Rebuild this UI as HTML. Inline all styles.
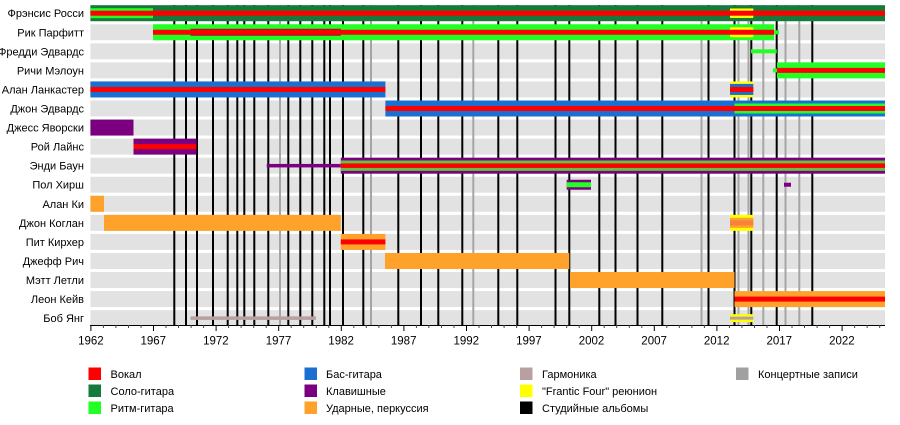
<!DOCTYPE html>
<html><head><meta charset="utf-8"><style>
html,body{margin:0;padding:0;background:#fff;}
svg{display:block;}
text{font-family:"Liberation Sans",Arial,sans-serif;fill:#000;}
</style></head><body>
<svg width="900" height="425" viewBox="0 0 900 425" xmlns="http://www.w3.org/2000/svg">
<rect width="900" height="425" fill="#fff"/>
<!-- row backgrounds -->
<g fill="#e2e2e2">
<rect x="90.4" y="5.2" width="794.6" height="16"/>
<rect x="90.4" y="24.26" width="794.6" height="16"/>
<rect x="90.4" y="43.32" width="794.6" height="16"/>
<rect x="90.4" y="62.38" width="794.6" height="16"/>
<rect x="90.4" y="81.44" width="794.6" height="16"/>
<rect x="90.4" y="100.5" width="794.6" height="16"/>
<rect x="90.4" y="119.56" width="794.6" height="16"/>
<rect x="90.4" y="138.62" width="794.6" height="16"/>
<rect x="90.4" y="157.68" width="794.6" height="16"/>
<rect x="90.4" y="176.74" width="794.6" height="16"/>
<rect x="90.4" y="195.8" width="794.6" height="16"/>
<rect x="90.4" y="214.86" width="794.6" height="16"/>
<rect x="90.4" y="233.92" width="794.6" height="16"/>
<rect x="90.4" y="252.98" width="794.6" height="16"/>
<rect x="90.4" y="272.04" width="794.6" height="16"/>
<rect x="90.4" y="291.1" width="794.6" height="16"/>
<rect x="90.4" y="310.16" width="794.6" height="15"/>
</g>
<!-- live albums (gray lines) -->
<g fill="#a5a5a5">
<rect x="279" y="5" width="2" height="320"/>
<rect x="370" y="5" width="2" height="320"/>
<rect x="472.3" y="5" width="2" height="320"/>
<rect x="700.5" y="5" width="2" height="320"/>
<rect x="737.5" y="5" width="2" height="320"/>
<rect x="747.5" y="5" width="2" height="320"/>
<rect x="762.3" y="5" width="2" height="320"/>
<rect x="784.5" y="5" width="2" height="320"/>
<rect x="798.3" y="5" width="2" height="320"/>
</g>
<!-- studio albums (black lines) -->
<g fill="#000">
<rect x="173.3" y="5" width="2" height="320"/>
<rect x="185" y="5" width="2" height="320"/>
<rect x="196" y="5" width="2" height="320"/>
<rect x="212" y="5" width="2" height="320"/>
<rect x="226.7" y="5" width="2" height="320"/>
<rect x="236.3" y="5" width="2" height="320"/>
<rect x="243.3" y="5" width="2" height="320"/>
<rect x="253.3" y="5" width="2" height="320"/>
<rect x="267.3" y="5" width="2" height="320"/>
<rect x="287.3" y="5" width="2" height="320"/>
<rect x="299.3" y="5" width="2" height="320"/>
<rect x="311.3" y="5" width="2" height="320"/>
<rect x="323.3" y="5" width="2" height="320"/>
<rect x="329" y="5" width="2" height="320"/>
<rect x="342" y="5" width="2" height="320"/>
<rect x="362.3" y="5" width="2" height="320"/>
<rect x="397.3" y="5" width="2" height="320"/>
<rect x="420" y="5" width="2" height="320"/>
<rect x="437.3" y="5" width="2" height="320"/>
<rect x="461.3" y="5" width="2" height="320"/>
<rect x="497.3" y="5" width="2" height="320"/>
<rect x="516.3" y="5" width="2" height="320"/>
<rect x="554.5" y="5" width="2" height="320"/>
<rect x="568.3" y="5" width="2" height="320"/>
<rect x="598.3" y="5" width="2" height="320"/>
<rect x="614.5" y="5" width="2" height="320"/>
<rect x="636.5" y="5" width="2" height="320"/>
<rect x="661.3" y="5" width="2" height="320"/>
<rect x="707.5" y="5" width="2" height="320"/>
<rect x="733.5" y="5" width="2" height="320"/>
<rect x="750.3" y="5" width="2" height="320"/>
<rect x="775.7" y="5" width="2" height="320"/>
<rect x="811.3" y="5" width="2" height="320"/>
</g>
<!-- Row 0: Rossi -->
<rect x="90.4" y="5.2" width="794.6" height="16" fill="#157a3c"/>
<rect x="90.4" y="8.2" width="62.6" height="10" fill="#22ff22"/>
<rect x="730" y="8.45" width="23.3" height="9.5" fill="#ffff00"/>
<rect x="90.4" y="10.7" width="794.6" height="5" fill="#ff0000"/>
<!-- Row 1: Parfitt -->
<rect x="153" y="24.26" width="621" height="16" fill="#22ff22"/>
<rect x="730" y="27.26" width="23.3" height="10" fill="#ffff00"/>
<rect x="190.5" y="28.76" width="150.3" height="7" fill="#a0103a"/>
<rect x="153" y="29.76" width="621" height="5" fill="#ff0000"/>
<rect x="774" y="30.26" width="5" height="4" fill="#22ff22"/>
<!-- Row 2: Freddie Edwards -->
<rect x="751" y="49.32" width="25.7" height="4" fill="#22ff22"/>
<!-- Row 3: Malone -->
<rect x="777" y="62.38" width="108" height="16" fill="#22ff22"/>
<rect x="777" y="67.88" width="108" height="5" fill="#ff0000"/>
<rect x="773" y="68.38" width="4" height="4" fill="#22ff22"/>
<!-- Row 4: Lancaster -->
<rect x="90.4" y="81.44" width="295" height="16" fill="#1a6fd0"/>
<rect x="90.4" y="86.94" width="295" height="5" fill="#ff0000"/>
<rect x="730" y="81.44" width="23.3" height="16" fill="#ffff00"/>
<rect x="730" y="83.94" width="23.3" height="11" fill="#1a6fd0"/>
<rect x="730" y="86.94" width="23.3" height="5" fill="#ff0000"/>
<!-- Row 5: John Edwards -->
<rect x="385.4" y="100.5" width="499.6" height="16" fill="#1a6fd0"/>
<rect x="734.5" y="103.5" width="150.5" height="10" fill="#22ff22"/>
<rect x="385.4" y="106" width="499.6" height="5" fill="#ff0000"/>
<!-- Row 6: Jaworski -->
<rect x="90.4" y="119.56" width="43.1" height="16" fill="#7a0080"/>
<!-- Row 7: Lynes -->
<rect x="133.5" y="138.62" width="63" height="16" fill="#7a0080"/>
<rect x="133.5" y="144.12" width="63" height="5" fill="#ff0000"/>
<!-- Row 8: Bown -->
<rect x="266.7" y="163.93" width="74.1" height="3.5" fill="#7a0080"/>
<rect x="340.8" y="157.68" width="544.2" height="16" fill="#7a0080"/>
<rect x="340.8" y="160.48" width="544.2" height="10.4" fill="#66c044"/>
<rect x="340.8" y="163.43" width="544.2" height="4.5" fill="#ff0000"/>
<!-- Row 9: Hirsch -->
<rect x="566.7" y="179.74" width="24.3" height="10" fill="#7a0080"/>
<rect x="566.7" y="182.24" width="24.3" height="5" fill="#22ff22"/>
<rect x="784" y="182.74" width="7" height="4" fill="#7a0080"/>
<!-- Row 10: Key -->
<rect x="90.4" y="195.8" width="13.6" height="16" fill="#ffa22c"/>
<!-- Row 11: Coghlan -->
<rect x="104" y="214.86" width="236.8" height="16" fill="#ffa22c"/>
<rect x="730" y="214.86" width="23.3" height="16" fill="#ffff00"/>
<rect x="730" y="217.86" width="23.3" height="10" fill="#ffa22c"/>
<rect x="730" y="220.36" width="23.3" height="5" fill="#f5843a"/>
<!-- Row 12: Kircher -->
<rect x="340.8" y="233.92" width="44.6" height="16" fill="#ffa22c"/>
<rect x="340.8" y="239.42" width="44.6" height="5" fill="#ff0000"/>
<!-- Row 13: Rich -->
<rect x="385" y="252.98" width="184.3" height="16" fill="#ffa22c"/>
<!-- Row 14: Letley -->
<rect x="570" y="272.04" width="164.5" height="16" fill="#ffa22c"/>
<!-- Row 15: Cave -->
<rect x="734.5" y="291.1" width="150.5" height="16" fill="#ffa22c"/>
<rect x="734.5" y="296.6" width="150.5" height="5" fill="#ff0000"/>
<!-- Row 16: Young -->
<rect x="190.5" y="316.4" width="125.5" height="3.5" fill="#b8a0a0"/>
<rect x="730" y="314.16" width="23.3" height="8" fill="#ffff00"/>
<rect x="730" y="316.66" width="23.3" height="3" fill="#b8a0a0"/>
<!-- names -->
<g font-size="11" text-anchor="end">
<text x="84" y="17.2">Фрэнсис Росси</text>
<text x="84" y="36.3">Рик Парфитт</text>
<text x="84" y="55.3">Фредди Эдвардс</text>
<text x="84" y="74.4">Ричи Мэлоун</text>
<text x="84" y="93.4">Алан Ланкастер</text>
<text x="84" y="112.5">Джон Эдвардс</text>
<text x="84" y="131.6">Джесс Яворски</text>
<text x="84" y="150.6">Рой Лайнс</text>
<text x="84" y="169.7">Энди Баун</text>
<text x="84" y="188.7">Пол Хирш</text>
<text x="84" y="207.8">Алан Ки</text>
<text x="84" y="226.9">Джон Коглан</text>
<text x="84" y="245.9">Пит Кирхер</text>
<text x="84" y="265">Джефф Рич</text>
<text x="84" y="284">Мэтт Летли</text>
<text x="84" y="303.1">Леон Кейв</text>
<text x="84" y="322.2">Боб Янг</text>
</g>
<!-- axis -->
<rect x="90" y="325" width="795" height="1" fill="#000"/>
<g stroke="#000" stroke-width="1">
<line x1="90.9" y1="325" x2="90.9" y2="331"/>
<line x1="153.5" y1="325" x2="153.5" y2="331"/>
<line x1="216.1" y1="325" x2="216.1" y2="331"/>
<line x1="278.7" y1="325" x2="278.7" y2="331"/>
<line x1="341.3" y1="325" x2="341.3" y2="331"/>
<line x1="403.9" y1="325" x2="403.9" y2="331"/>
<line x1="466.5" y1="325" x2="466.5" y2="331"/>
<line x1="529.1" y1="325" x2="529.1" y2="331"/>
<line x1="591.7" y1="325" x2="591.7" y2="331"/>
<line x1="654.3" y1="325" x2="654.3" y2="331"/>
<line x1="716.9" y1="325" x2="716.9" y2="331"/>
<line x1="779.5" y1="325" x2="779.5" y2="331"/>
<line x1="842.1" y1="325" x2="842.1" y2="331"/>
</g>
<g stroke="#444" stroke-width="1">
<line x1="103.4" y1="325" x2="103.4" y2="328"/><line x1="115.9" y1="325" x2="115.9" y2="328"/><line x1="128.5" y1="325" x2="128.5" y2="328"/><line x1="141" y1="325" x2="141" y2="328"/>
<line x1="166" y1="325" x2="166" y2="328"/><line x1="178.5" y1="325" x2="178.5" y2="328"/><line x1="191.1" y1="325" x2="191.1" y2="328"/><line x1="203.6" y1="325" x2="203.6" y2="328"/>
<line x1="228.6" y1="325" x2="228.6" y2="328"/><line x1="241.1" y1="325" x2="241.1" y2="328"/><line x1="253.7" y1="325" x2="253.7" y2="328"/><line x1="266.2" y1="325" x2="266.2" y2="328"/>
<line x1="291.2" y1="325" x2="291.2" y2="328"/><line x1="303.7" y1="325" x2="303.7" y2="328"/><line x1="316.3" y1="325" x2="316.3" y2="328"/><line x1="328.8" y1="325" x2="328.8" y2="328"/>
<line x1="353.8" y1="325" x2="353.8" y2="328"/><line x1="366.3" y1="325" x2="366.3" y2="328"/><line x1="378.9" y1="325" x2="378.9" y2="328"/><line x1="391.4" y1="325" x2="391.4" y2="328"/>
<line x1="416.4" y1="325" x2="416.4" y2="328"/><line x1="428.9" y1="325" x2="428.9" y2="328"/><line x1="441.5" y1="325" x2="441.5" y2="328"/><line x1="454" y1="325" x2="454" y2="328"/>
<line x1="479" y1="325" x2="479" y2="328"/><line x1="491.5" y1="325" x2="491.5" y2="328"/><line x1="504.1" y1="325" x2="504.1" y2="328"/><line x1="516.6" y1="325" x2="516.6" y2="328"/>
<line x1="541.6" y1="325" x2="541.6" y2="328"/><line x1="554.1" y1="325" x2="554.1" y2="328"/><line x1="566.7" y1="325" x2="566.7" y2="328"/><line x1="579.2" y1="325" x2="579.2" y2="328"/>
<line x1="604.2" y1="325" x2="604.2" y2="328"/><line x1="616.7" y1="325" x2="616.7" y2="328"/><line x1="629.3" y1="325" x2="629.3" y2="328"/><line x1="641.8" y1="325" x2="641.8" y2="328"/>
<line x1="666.8" y1="325" x2="666.8" y2="328"/><line x1="679.3" y1="325" x2="679.3" y2="328"/><line x1="691.9" y1="325" x2="691.9" y2="328"/><line x1="704.4" y1="325" x2="704.4" y2="328"/>
<line x1="729.4" y1="325" x2="729.4" y2="328"/><line x1="741.9" y1="325" x2="741.9" y2="328"/><line x1="754.5" y1="325" x2="754.5" y2="328"/><line x1="767" y1="325" x2="767" y2="328"/>
<line x1="792" y1="325" x2="792" y2="328"/><line x1="804.5" y1="325" x2="804.5" y2="328"/><line x1="817.1" y1="325" x2="817.1" y2="328"/><line x1="829.6" y1="325" x2="829.6" y2="328"/>
<line x1="854.6" y1="325" x2="854.6" y2="328"/><line x1="867.1" y1="325" x2="867.1" y2="328"/><line x1="879.7" y1="325" x2="879.7" y2="328"/>
</g>
<g font-size="11.5" text-anchor="middle">
<text x="90.9" y="344.5">1962</text>
<text x="153.3" y="344.5">1967</text>
<text x="215.9" y="344.5">1972</text>
<text x="278.5" y="344.5">1977</text>
<text x="341.1" y="344.5">1982</text>
<text x="403.7" y="344.5">1987</text>
<text x="466.3" y="344.5">1992</text>
<text x="528.9" y="344.5">1997</text>
<text x="591.5" y="344.5">2002</text>
<text x="654.1" y="344.5">2007</text>
<text x="716.7" y="344.5">2012</text>
<text x="779.3" y="344.5">2017</text>
<text x="841.9" y="344.5">2022</text>
</g>
<!-- legend -->
<rect x="88.5" y="367.5" width="12.5" height="12.5" fill="#ff0000"/>
<rect x="88.5" y="384.5" width="12.5" height="12.5" fill="#157a3c"/>
<rect x="88.5" y="401.5" width="12.5" height="12.5" fill="#22ff22"/>
<rect x="304.5" y="367.5" width="12.5" height="12.5" fill="#1a6fd0"/>
<rect x="304.5" y="384.5" width="12.5" height="12.5" fill="#7a0080"/>
<rect x="304.5" y="401.5" width="12.5" height="12.5" fill="#ffa22c"/>
<rect x="520" y="367.5" width="12.5" height="12.5" fill="#b8a0a0"/>
<rect x="520" y="384.5" width="12.5" height="12.5" fill="#ffff00"/>
<rect x="520" y="401.5" width="12.5" height="12.5" fill="#000"/>
<rect x="736" y="367.5" width="12.5" height="12.5" fill="#a0a0a0"/>
<g font-size="11">
<text x="110.5" y="378">Вокал</text>
<text x="110.5" y="395">Соло-гитара</text>
<text x="110.5" y="412">Ритм-гитара</text>
<text x="326" y="378">Бас-гитара</text>
<text x="326" y="395">Клавишные</text>
<text x="326" y="412">Ударные, перкуссия</text>
<text x="542" y="378">Гармоника</text>
<text x="542" y="395">"Frantic Four" реюнион</text>
<text x="542" y="412">Студийные альбомы</text>
<text x="758" y="378">Концертные записи</text>
</g>
</svg>
</body></html>
